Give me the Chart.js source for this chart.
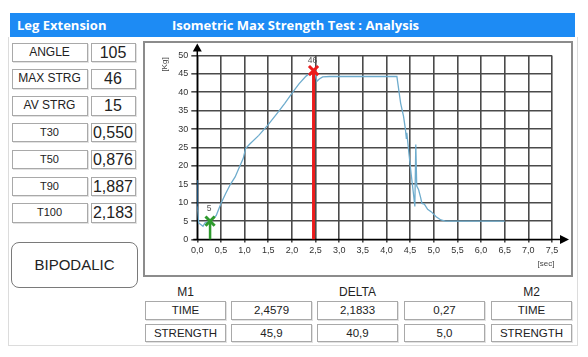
<!DOCTYPE html>
<html><head><meta charset="utf-8">
<script src="https://cdn.jsdelivr.net/npm/chart.js@4.4.0/dist/chart.umd.min.js"></script>
<style>
html,body{margin:0;padding:0;background:#fff;width:588px;height:357px;overflow:hidden;font-family:"Liberation Sans",Arial,sans-serif;color:#222}
.abs{position:absolute;box-sizing:border-box}
#frame{left:8px;top:37px;width:570px;height:309px;border:1px solid #dcdcdc;border-top:none}
#hdr{left:10px;top:13px;width:565px;height:24px;background:#1d8bf4;color:#fff;font:bold 13px "Open Sans",sans-serif;line-height:24px}
#hdr span{position:absolute;top:0}
.box{border:1px solid #a9a9a9;box-shadow:1px 1px 0 #e2e2e2;background:#fff;text-align:center;white-space:nowrap}
#btn{left:11px;top:242px;width:127px;height:46px;border:1.5px solid #7a7a7a;border-radius:8px;font-size:15px;line-height:43px;text-align:center;color:#222}
#panel{left:143px;top:41px;width:430px;height:236px;border:2px solid #8c8c8c}
#cv{position:absolute;left:145px;top:43px}
.th{font-size:12px;color:#222;text-align:center}
</style></head>
<body>
<div id="frame" class="abs"></div>
<div id="hdr" class="abs"><span style="left:7px">Leg Extension</span><span style="left:162px">Isometric Max Strength Test : Analysis</span></div>
<div id="left"></div>
<div id="btn" class="abs">BIPODALIC</div>
<div id="panel" class="abs"></div>
<canvas id="cv" width="426" height="232"></canvas>
<div id="table"></div>
<script>
// ---- data ----
const leftLabels = ['ANGLE','MAX STRG','AV STRG','T30','T50','T90','T100'];
const leftValues = ['105','46','15','0,550','0,876','1,887','2,183'];
const tableHeads = ['M1','','DELTA','','M2'];
const timeRow = ['TIME','2,4579','2,1833','0,27','TIME'];
const strengthRow = ['STRENGTH','45,9','40,9','5,0','STRENGTH'];

const curveTime  = [0, 0.03, 0.08, 0.12, 0.16, 0.27, 0.4, 0.5, 0.6, 0.7, 0.8, 0.9, 0.97, 1.02, 1.1, 1.3, 1.5, 1.7, 1.85, 2.0, 2.15, 2.3, 2.4579, 2.5, 2.53, 2.58, 2.65, 2.8, 4.22, 4.3, 4.36, 4.4, 4.42, 4.43, 4.47, 4.52, 4.57, 4.6, 4.62, 4.64, 4.68, 4.72, 4.75, 4.8, 4.87, 4.95, 5.05, 5.15, 5.25, 6.5];
const curveForce = [9, 4.5, 4.0, 3.6, 4.5, 5.0, 6.5, 9.8, 12.5, 15, 17, 20, 22, 24.7, 25.8, 28.3, 31.2, 34.5, 37, 39.7, 42.3, 44.4, 45.9, 44.5, 43.0, 43.6, 44.2, 44.3, 44.3, 37, 33.5, 30, 27.5, 29, 24, 18, 12.5, 9.0, 25.8, 14.5, 13.5, 11.5, 9.8, 9.6, 8.2, 7.5, 6.2, 5.3, 5.0, 5.0];
const startTime  = [0, 0];
const startForce = [16.2, 8];
const markerNames = ['M1','M2'];
const markerTime  = [2.4579, 0.27];
const markerForce = [45.9, 5.0];
const markerColors = ['#ec1c1c', '#2e9a2e'];
const xMin = 0, xMax = 7.5, xStep = 0.5;
const yMin = 0, yMax = 50, yStep = 5;

// ---- HTML panels ----
const left = document.getElementById('left');
leftLabels.forEach((lab, i) => {
  const top = 42.5 + i * 26.8;
  const a = document.createElement('div');
  a.className = 'abs box';
  a.style.cssText = `left:11.5px;top:${top}px;width:76px;height:19.5px;font-size:${i<3?12:11}px;line-height:17.5px`;
  a.textContent = lab;
  const b = document.createElement('div');
  b.className = 'abs box';
  b.style.cssText = `left:90.5px;top:${top}px;width:45px;height:19.5px;font-size:16px;line-height:17.5px`;
  b.textContent = leftValues[i];
  left.appendChild(a); left.appendChild(b);
});
const table = document.getElementById('table');
const colX = [145, 231, 317, 404, 491];
tableHeads.forEach((h, i) => {
  if (!h) return;
  const d = document.createElement('div');
  d.className = 'abs th';
  d.style.cssText = `left:${colX[i]}px;top:285px;width:81px;height:14px;line-height:14px`;
  d.textContent = h;
  table.appendChild(d);
});
[timeRow, strengthRow].forEach((row, r) => {
  row.forEach((t, i) => {
    const d = document.createElement('div');
    d.className = 'abs box';
    d.style.cssText = `left:${colX[i]}px;top:${301 + r*22.5}px;width:81px;height:18.5px;font-size:11.5px;line-height:16.5px`;
    d.textContent = t;
    table.appendChild(d);
  });
});

// ---- chart ----
const fmt = v => v.toFixed(1).replace('.', ',');
const decor = {
  id: 'decor',
  beforeDatasetsDraw(chart) {
    const {ctx, chartArea: ca, scales: {x, y}} = chart;
    const x0 = x.getPixelForValue(0), y0 = y.getPixelForValue(0);
    ctx.save();
    ctx.strokeStyle = '#000'; ctx.fillStyle = '#000'; ctx.lineWidth = 1.5;
    ctx.beginPath();
    ctx.moveTo(x0, y0); ctx.lineTo(x0, ca.top - 6);
    ctx.moveTo(x0 - 4, y0); ctx.lineTo(ca.right + 10, y0);
    ctx.stroke();
    ctx.beginPath();
    ctx.moveTo(x0, ca.top - 12); ctx.lineTo(x0 - 4.5, ca.top - 4); ctx.lineTo(x0 + 4.5, ca.top - 4); ctx.closePath(); ctx.fill();
    ctx.beginPath();
    ctx.moveTo(ca.right + 17, y0); ctx.lineTo(ca.right + 8, y0 - 4.5); ctx.lineTo(ca.right + 8, y0 + 4.5); ctx.closePath(); ctx.fill();
    ctx.fillStyle = '#444';
    ctx.font = '8px "Liberation Sans", Arial';
    ctx.textAlign = 'center'; ctx.textBaseline = 'middle';
    ctx.fillText('[sec]', ca.right - 6, ca.bottom + 24);
    ctx.translate(ca.left - 33, ca.top + 9);
    ctx.rotate(-Math.PI / 2);
    ctx.fillText('[Kg]', 0, 0);
    ctx.restore();
  },
  afterDatasetsDraw(chart) {
    const {ctx} = chart;
    ctx.save();
    ctx.fillStyle = '#555';
    ctx.font = '8.5px "Liberation Sans", Arial';
    ctx.textAlign = 'center'; ctx.textBaseline = 'middle';
    markerNames.forEach((n, i) => {
      const meta = chart.getDatasetMeta(i);
      const p = meta.data[1];
      ctx.fillText(String(Math.round(markerForce[i])), p.x - 1, p.y - (i === 0 ? 10 : 12));
    });
    ctx.restore();
  }
};

const markerSets = markerNames.map((n, i) => ({
  label: n,
  data: [{x: markerTime[i], y: 0}, {x: markerTime[i], y: markerForce[i]}],
  borderColor: markerColors[i],
  borderWidth: i === 0 ? 3 : 2.5,
  pointRadius: [0, 6.5],
  pointStyle: 'crossRot',
  pointBorderColor: markerColors[i],
  pointBorderWidth: 3,
  tension: 0
}));

new Chart(document.getElementById('cv'), {
  type: 'line',
  data: {
    datasets: [
      ...markerSets,
      { label: 'start', data: startTime.map((t, i) => ({x: t, y: startForce[i]})), borderColor: '#1f6aa5', borderWidth: 1.6, pointRadius: 0, tension: 0 },
      { label: 'force', data: curveTime.map((t, i) => ({x: t, y: curveForce[i]})), borderColor: '#6eaccd', borderWidth: 1.3, pointRadius: 0, tension: 0 }
    ]
  },
  options: {
    responsive: false, animation: false, devicePixelRatio: 1,
    layout: {padding: {left: 4, right: 19, top: 12.5, bottom: 0}},
    plugins: {legend: {display: false}, tooltip: {enabled: false}},
    scales: {
      x: {
        type: 'linear', min: xMin, max: xMax,
        afterFit(s) { s.height = 35.5; },
        ticks: {stepSize: xStep, callback: v => fmt(v), font: {size: 9, family: '"Liberation Sans", Arial'}, color: '#333', padding: 3, maxRotation: 0, autoSkip: false},
        grid: {color: '#4a4a4a', lineWidth: 1.6, tickLength: 3},
        border: {display: false}
      },
      y: {
        type: 'linear', min: yMin, max: yMax,
        afterFit(s) { s.width = 48.3; },
        ticks: {stepSize: yStep, font: {size: 9, family: '"Liberation Sans", Arial'}, color: '#333', padding: 3},
        grid: {color: '#4a4a4a', lineWidth: 1.6, tickLength: 6},
        border: {display: false}
      }
    }
  },
  plugins: [decor]
});
</script>
</body></html>
